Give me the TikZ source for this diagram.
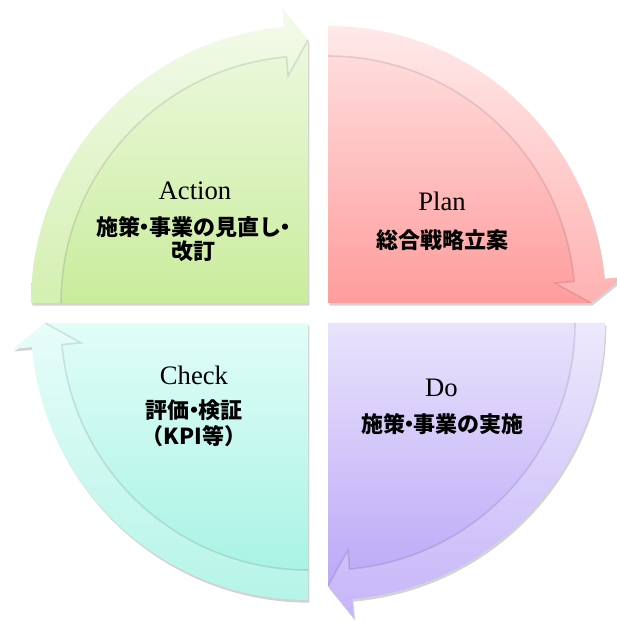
\documentclass[tikz,border=0pt]{standalone}
\usepackage{fontspec}
\setmainfont{Liberation Serif}
\newfontfamily\jpfont{Noto Sans CJK JP}
\usetikzlibrary{shadows}

\definecolor{actiontop}{HTML}{F0FAE6}
\definecolor{actionbot}{HTML}{C9EC9C}
\definecolor{plantop}{HTML}{FFE3E3}
\definecolor{planbot}{HTML}{FF9C9C}
\definecolor{dotop}{HTML}{E9E3FC}
\definecolor{dobot}{HTML}{B6A1F7}
\definecolor{checktop}{HTML}{E1FDF8}
\definecolor{checkbot}{HTML}{A2F2E2}

\begin{document}
\begin{tikzpicture}[x=0.75pt, y=0.75pt,
	quad/.style={drop shadow={shadow xshift=1pt, shadow yshift=-2pt, opacity=0.35}},
	band/.style={fill=white, fill opacity=0.22},
	bandedge/.style={draw=black, draw opacity=0.1, line width=1.2pt},
	title/.style={font=\fontsize{20}{24}\selectfont, anchor=base},
	jptext/.style={font=\jpfont\bfseries\fontsize{16.5}{18}\selectfont}]
\useasboundingbox (0,0) rectangle (617,621);
% draw quadrant Action (top left)
\begin{scope}[shift={(308,318)}]
	\path[quad, top color=actiontop, bottom color=actionbot] (0,0) -- (180:277)
		arc[start angle=180, end angle=95, radius=277] -- (95:296) -- (90:263) -- cycle;
	\fill[band] (180:277) arc[start angle=180, end angle=95, radius=277] -- (95:296)
		-- (90:263) -- (95:228) -- (95:247) arc[start angle=95, end angle=180, radius=247] -- cycle;
	\draw[bandedge] (180:247) arc[start angle=180, end angle=95, radius=247] -- (95:228) -- (90:263);
\end{scope}
% draw quadrant Plan (top right)
\begin{scope}[shift={(328,318)}]
	\path[quad, top color=plantop, bottom color=planbot] (0,0) -- (90:277)
		arc[start angle=90, end angle=5, radius=277] -- (5:296) -- (0:263) -- cycle;
	\fill[band] (90:277) arc[start angle=90, end angle=5, radius=277] -- (5:296)
		-- (0:263) -- (5:228) -- (5:247) arc[start angle=5, end angle=90, radius=247] -- cycle;
	\draw[bandedge] (90:247) arc[start angle=90, end angle=5, radius=247] -- (5:228) -- (0:263);
\end{scope}
% draw quadrant Do (bottom right)
\begin{scope}[shift={(328,298)}]
	\path[quad, top color=dotop, bottom color=dobot] (0,0) -- (0:277)
		arc[start angle=0, end angle=-85, radius=277] -- (-85:296) -- (-90:263) -- cycle;
	\fill[band] (0:277) arc[start angle=0, end angle=-85, radius=277] -- (-85:296)
		-- (-90:263) -- (-85:228) -- (-85:247) arc[start angle=-85, end angle=0, radius=247] -- cycle;
	\draw[bandedge] (0:247) arc[start angle=0, end angle=-85, radius=247] -- (-85:228) -- (-90:263);
\end{scope}
% draw quadrant Check (bottom left)
\begin{scope}[shift={(308,298)}]
	\path[quad, top color=checktop, bottom color=checkbot] (0,0) -- (270:277)
		arc[start angle=270, end angle=185, radius=277] -- (185:296) -- (180:263) -- cycle;
	\fill[band] (270:277) arc[start angle=270, end angle=185, radius=277] -- (185:296)
		-- (180:263) -- (185:228) -- (185:247) arc[start angle=185, end angle=270, radius=247] -- cycle;
	\draw[bandedge] (270:247) arc[start angle=270, end angle=185, radius=247] -- (185:228) -- (180:263);
\end{scope}
% labels
\node[title] (action) at (195,421) {Action};
\node[jptext] (actionjp) at (193,394) {施策\kern-.3em・\kern-.3em事業の見直し\kern-.3em・\kern-.3em};
\node[jptext] (actionjp2) at (193,370) {改訂};
\node[title] (plan) at (442,410) {Plan};
\node[jptext] (planjp) at (442,380.5) {総合戦略立案};
\node[title] (do) at (441.5,224) {Do};
\node[jptext] (dojp) at (442.5,197) {施策\kern-.3em・\kern-.3em事業の実施};
\node[title] (check) at (194,236) {Check};
\node[jptext] (checkjp) at (194,211) {評価\kern-.3em・\kern-.3em検証};
\node[jptext] (checkjp2) at (194,185) {（KPI等）};
\end{tikzpicture}
\end{document}
